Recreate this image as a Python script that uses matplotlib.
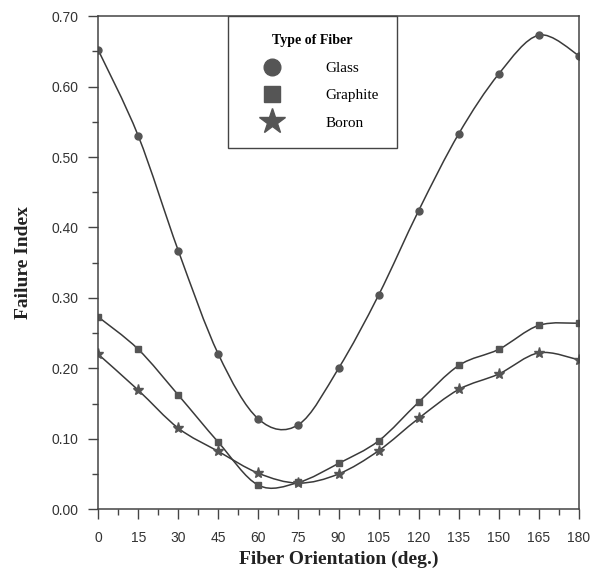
import numpy as np
import matplotlib
matplotlib.use('Agg')
import matplotlib.pyplot as plt
from matplotlib.path import Path
from matplotlib.patches import PathPatch

# DATA

angles = [0, 15, 30, 45, 60, 75, 90, 105, 120, 135, 150, 165, 180]
glass = [0.652, 0.530, 0.367, 0.220, 0.128, 0.120, 0.200, 0.304, 0.424, 0.533, 0.618, 0.673, 0.644]
graphite = [0.273, 0.227, 0.162, 0.095, 0.034, 0.038, 0.065, 0.097, 0.152, 0.204, 0.227, 0.261, 0.264]
boron = [0.220, 0.169, 0.115, 0.082, 0.051, 0.037, 0.050, 0.083, 0.129, 0.170, 0.192, 0.222, 0.212]

series = [('Glass', glass, 'o', 5), ('Graphite', graphite, 's', 5), ('Boron', boron, '*', 8)]

line_col = '#3a3a3a'
mark_col = '#555555'


def smooth_path(x, y):
    # Catmull-Rom through the points, drawn as cubic bezier segments
    x = np.asarray(x, float)
    y = np.asarray(y, float)
    verts = [(x[0], y[0])]
    codes = [Path.MOVETO]
    n = len(x)
    for i in range(n - 1):
        i0 = max(i - 1, 0)
        i3 = min(i + 2, n - 1)
        c1 = (x[i] + (x[i + 1] - x[i0]) / 6, y[i] + (y[i + 1] - y[i0]) / 6)
        c2 = (x[i + 1] - (x[i3] - x[i]) / 6, y[i + 1] - (y[i3] - y[i]) / 6)
        verts += [c1, c2, (x[i + 1], y[i + 1])]
        codes += [Path.CURVE4] * 3
    return Path(verts, codes)


fig = plt.figure(figsize=(5.95, 5.76), dpi=100)
ax = fig.add_axes([0.165, 0.116, 0.808, 0.856])

for name, vals, mk, ms in series:
    ax.add_patch(PathPatch(smooth_path(angles, vals), fill=False, edgecolor=line_col, lw=1.1))
    ax.plot(angles, vals, linestyle='none', marker=mk, markersize=ms,
            color=mark_col, markeredgecolor=mark_col, label=name)

ax.set_xlim(0, 180)
ax.set_ylim(0, 0.70)
ax.set_xticks(np.arange(0, 181, 15))
ax.set_xticks(np.arange(7.5, 180, 15), minor=True)
ax.set_yticks(np.arange(0, 0.71, 0.1))
ax.set_yticks(np.arange(0.05, 0.7, 0.1), minor=True)
ax.set_yticklabels(['%.2f' % v for v in np.arange(0, 0.71, 0.1)])
ax.tick_params(which='major', direction='out', length=7, width=1, color='#444444',
               labelsize=10, labelcolor='#333333')
ax.tick_params(axis='x', which='major', pad=9)
ax.tick_params(axis='y', which='major', pad=7)
ax.tick_params(which='minor', direction='out', length=4, width=1, color='#444444')
for lab in ax.get_xticklabels() + ax.get_yticklabels():
    lab.set_family('Liberation Sans')
for s in ax.spines.values():
    s.set_color('#444444')
    s.set_linewidth(1.1)

ax.set_xlabel('Fiber Orientation (deg.)', family='Liberation Serif', fontweight='bold',
              fontsize=14, color='#222222', labelpad=4)
ax.set_ylabel('Failure Index', family='Liberation Serif', fontweight='bold',
              fontsize=14, color='#222222', labelpad=14)

leg = ax.legend(loc='upper left', bbox_to_anchor=(0.27, 1.0), borderaxespad=0,
                title='Type of Fiber', markerscale=2.4, fancybox=False, framealpha=1,
                edgecolor='#444444', prop={'family': 'Liberation Serif', 'size': 11},
                title_fontproperties={'family': 'Liberation Serif', 'weight': 'bold', 'size': 10},
                handlelength=3.3, handletextpad=1.9, labelspacing=0.9, borderpad=1.2)
leg.get_frame().set_linewidth(1.0)
leg._legend_box.align = 'center'

plt.savefig('out.png', dpi=100)
